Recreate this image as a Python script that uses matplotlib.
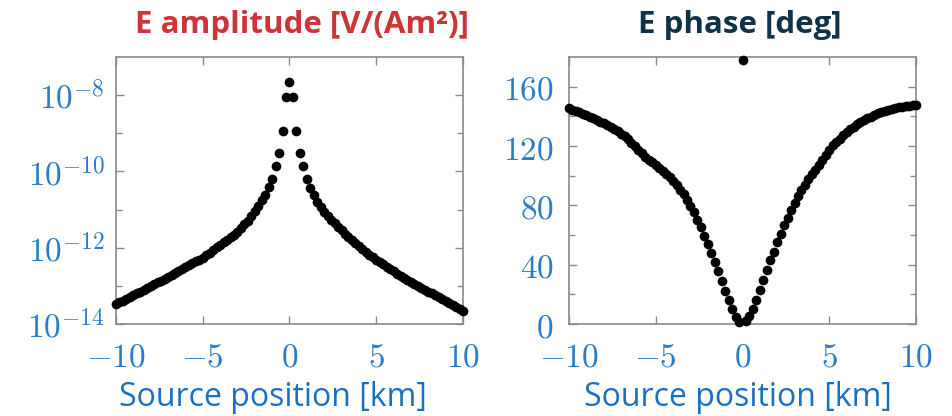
import matplotlib
matplotlib.use("Agg")
import matplotlib.pyplot as plt
from matplotlib.ticker import FuncFormatter
import numpy as np

# source positions in km (step 0.2)
x_km = [round(-10 + 0.2 * i, 1) for i in range(101)]

# E amplitude, as log10 of V/(Am^2)
amp_exp = [
    -13.48, -13.43, -13.39, -13.34, -13.29, -13.25, -13.20, -13.15, -13.11, -13.06,
    -13.01, -12.96, -12.91, -12.86, -12.81, -12.76, -12.71, -12.66, -12.61, -12.56,
    -12.51, -12.46, -12.41, -12.36, -12.31, -12.26, -12.20, -12.13, -12.06, -11.99,
    -11.92, -11.85, -11.79, -11.73, -11.66, -11.58, -11.48, -11.39, -11.29, -11.17,
    -11.04, -10.90, -10.76, -10.61, -10.42, -10.20, -9.87, -9.52, -8.94, -8.05,
    -7.65,
    -8.05, -8.94, -9.52, -9.87, -10.20, -10.43, -10.63, -10.80, -10.93, -11.06,
    -11.18, -11.27, -11.36, -11.45, -11.54, -11.63, -11.72, -11.81, -11.88, -11.96,
    -12.04, -12.12, -12.19, -12.25, -12.31, -12.37, -12.44, -12.50, -12.56, -12.62,
    -12.68, -12.74, -12.80, -12.85, -12.90, -12.95, -13.00, -13.05, -13.10, -13.15,
    -13.20, -13.25, -13.30, -13.35, -13.40, -13.45, -13.50, -13.55, -13.60, -13.65,
]

# E phase in degrees
phase_deg = [
    145.4, 144.5, 143.6, 142.6, 141.7, 140.7, 139.7, 138.7, 137.6, 136.5,
    135.4, 134.2, 133.0, 131.5, 130.0, 128.3, 126.5, 124.5, 122.3, 120.0,
    117.6, 115.2, 112.5, 110.8, 109.2, 107.0, 105.0, 103.0, 101.0, 98.8,
    96.3, 93.5, 90.6, 87.4, 83.8, 79.8, 75.4, 70.4, 65.2, 59.6,
    54.0, 47.8, 41.6, 35.6, 29.2, 22.4, 16.0, 10.2, 5.0, 1.5,
    178.0,
    1.8, 5.2, 10.2, 16.0, 22.6, 29.6, 36.2, 43.0, 48.8, 55.0,
    60.7, 66.5, 71.7, 77.0, 81.9, 86.2, 90.2, 94.0, 97.6, 100.8,
    103.5, 107.0, 110.5, 114.0, 117.5, 120.5, 122.8, 125.0, 127.5, 129.5,
    131.2, 132.9, 134.5, 136.0, 137.4, 138.6, 139.8, 140.9, 142.0, 143.0,
    143.8, 144.5, 145.1, 145.6, 146.0, 146.4, 146.8, 147.1, 147.4, 147.6,
]

x_ticks = [-10, -5, 0, 5, 10]
amp_ticks = [1e-14, 1e-12, 1e-10, 1e-8]
amp_minor = [1e-13, 1e-11, 1e-9]
phase_ticks = [0, 40, 80, 120, 160]
phase_minor = [20, 60, 100, 140]

plt.rcParams["mathtext.fontset"] = "cm"

tick_blue = "#2a7cc6"
label_blue = "#1a6fbf"
tick_red = "#d23a3a"
spine_gray = "#8a8a8a"

fig = plt.figure(figsize=(9.53, 4.16), dpi=100)
ax1 = fig.add_axes([116 / 953, 92 / 416, 347 / 953, 267 / 416])
ax2 = fig.add_axes([569 / 953, 92 / 416, 347 / 953, 267 / 416])

amp = [10.0 ** e for e in amp_exp]
ax1.plot(x_km, amp, "o", color="black", ms=7, mew=0, clip_on=False, zorder=3)
ax1.set_yscale("log")
ax1.set_ylim(1e-14, 1e-7)
ax1.set_yticks(amp_ticks)
ax1.set_yticks(amp_minor, minor=True)
ax1.yaxis.set_major_formatter(
    FuncFormatter(lambda v, p: r"$10^{%d}$" % int(round(np.log10(v)))))
ax1.yaxis.set_minor_formatter(FuncFormatter(lambda v, p: ""))

ax2.plot(x_km, phase_deg, "o", color="black", ms=7, mew=0, clip_on=False, zorder=3)
ax2.set_ylim(0, 180)
ax2.set_yticks(phase_ticks)
ax2.set_yticks(phase_minor, minor=True)
ax2.yaxis.set_major_formatter(FuncFormatter(lambda v, p: r"$%d$" % v))

for ax in (ax1, ax2):
    ax.set_xlim(-10, 10)
    ax.set_xticks(x_ticks)
    ax.xaxis.set_major_formatter(FuncFormatter(lambda v, p: r"$%d$" % v))
    for s in ax.spines.values():
        s.set_color(spine_gray)
        s.set_linewidth(1.2)
    ax.tick_params(which="both", direction="in", top=True, right=True,
                   labelsize=24, labelcolor=tick_blue, color=spine_gray, width=1.0)
    ax.tick_params(axis="y", which="major", length=6)
    ax.tick_params(axis="y", which="minor", length=4)
    ax.tick_params(axis="x", which="major", length=6, pad=12)
    for t in ax.xaxis.get_major_ticks() + ax.yaxis.get_major_ticks():
        t.tick1line.set_color(tick_red)
        t.tick2line.set_color(spine_gray)

ax1.tick_params(axis="y", which="major", pad=8)
ax2.tick_params(axis="y", which="major", pad=11)

# axis labels and titles placed as in the original slide
fig.text(273 / 953, 1 - 397 / 416, "Source position [km]", fontsize=23,
         color=label_blue, family="Open Sans", ha="center", va="center")
fig.text(738 / 953, 1 - 397 / 416, "Source position [km]", fontsize=23,
         color=label_blue, family="Open Sans", ha="center", va="center")
fig.text(302 / 953, 1 - 25 / 416, "E amplitude [V/(Am²)]", fontsize=22.5,
         fontweight="bold", color="#cc3438", family="Open Sans",
         ha="center", va="center")
fig.text(740 / 953, 1 - 25 / 416, "E phase [deg]", fontsize=22.5,
         fontweight="bold", color="#0f3247", family="Open Sans",
         ha="center", va="center")

fig.savefig("out.png", dpi=100)
